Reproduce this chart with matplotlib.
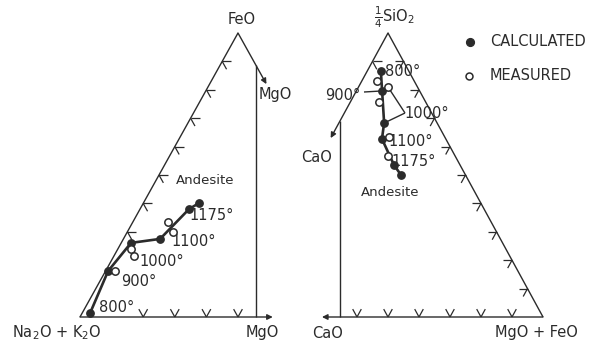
import matplotlib
matplotlib.use('Agg')
import matplotlib.pyplot as plt
import numpy as np

plt.rcParams['font.family'] = ['DejaVu Sans']
plt.rcParams['mathtext.fontset'] = 'dejavusans'

# ---------------- data (ternary fractions) ----------------
# Left diagram: Na2O+K2O (bottom-left) - FeO (top) - MgO (bottom-right)
left_calc_feo = [0.014, 0.162, 0.261, 0.275, 0.380, 0.401]
left_calc_mgo = [0.025, 0.008, 0.031, 0.116, 0.155, 0.176]
left_meas_feo = [0.335, 0.299, 0.239, 0.215, 0.162]
left_meas_mgo = [0.111, 0.144, 0.043, 0.064, 0.030]
left_temp_labels = ['1175°', '1100°', '1000°', '900°', '800°']

# Right diagram: CaO (bottom-left) - 1/4 SiO2 (top) - MgO+FeO (bottom-right)
right_calc_sio2 = [0.866, 0.796, 0.683, 0.627, 0.535, 0.500]
right_calc_mgfe = [0.044, 0.083, 0.146, 0.167, 0.252, 0.292]
right_meas_sio2 = [0.831, 0.810, 0.757, 0.634, 0.567]
right_meas_mgfe = [0.049, 0.095, 0.092, 0.186, 0.216]
right_temp_labels = ['800°', '900°', '1000°', '1100°', '1175°']

tick_fracs = [0.1, 0.2, 0.3, 0.4, 0.5, 0.6, 0.7, 0.8, 0.9]

# ---------------- layout ----------------
W, H = 613, 349
fig = plt.figure(figsize=(W / 100, H / 100), dpi=100)
ax = fig.add_axes([0, 0, 1, 1])
ax.set_xlim(0, W)
ax.set_ylim(H, 0)
ax.axis('off')

INK = '#2b2b2b'
LW = 1.0

L_BL, L_T, L_BR = np.array([80, 317.]), np.array([238, 33.]), np.array([396, 317.])
R_BL, R_T, R_BR = np.array([233, 317.]), np.array([388, 33.]), np.array([543, 317.])


def tern(BL, T, BR, top, right):
    top = np.asarray(top, float)
    right = np.asarray(right, float)
    x = BL[0] + top * (T[0] - BL[0]) + right * (BR[0] - BL[0])
    y = BL[1] + top * (T[1] - BL[1]) + right * (BR[1] - BL[1])
    return x, y


def seg(p, q, **kw):
    ax.plot([p[0], q[0]], [p[1], q[1]], color=INK, lw=kw.get('lw', LW),
            solid_capstyle='butt')


def arrow(p, q):
    ax.annotate('', xy=q, xytext=p,
                arrowprops=dict(arrowstyle='-|>', color=INK, lw=LW,
                                mutation_scale=8, shrinkA=0, shrinkB=0))


def tick(p, dirs, L=9):
    for d in dirs:
        d = np.array(d, float)
        d = d / np.hypot(*d)
        seg(p, p + L * d, lw=0.9)


e_ur = L_T - L_BL          # up-right along left edge
e_dr = L_BR - L_T          # down-right along right edge
horiz = np.array([1., 0.])

# ---------------- left triangle ----------------
seg(L_BL, L_T)
arrow(tern(L_BL, L_T, L_BR, 1.0, 0.0), tern(L_BL, L_T, L_BR, 0.82, 0.18))
arrow(L_BL, tern(L_BL, L_T, L_BR, 0.0, 0.61))
vt = tern(L_BL, L_T, L_BR, 0.886, 0.114)
vb = tern(L_BL, L_T, L_BR, 0.0, 0.557)
seg(vt, (vt[0], vb[1]))
for f in tick_fracs[2:]:
    p = np.array(tern(L_BL, L_T, L_BR, f, 0.0))
    tick(p, [horiz, e_dr])
for f in tick_fracs[1:5]:
    p = np.array(tern(L_BL, L_T, L_BR, 0.0, f))
    tick(p, [e_ur, -e_dr])

MS = 5.3
lx, ly = tern(L_BL, L_T, L_BR, left_calc_feo, left_calc_mgo)
ax.plot(lx, ly, color=INK, lw=1.9, zorder=3)
ax.plot(lx, ly, 'o', color=INK, ms=MS, zorder=4)
mx, my = tern(L_BL, L_T, L_BR, left_meas_feo, left_meas_mgo)
ax.plot(mx, my, 'o', mfc='white', mec=INK, mew=1.1, ms=MS, zorder=5)

# ---------------- right triangle ----------------
seg(R_T, R_BR)
arrow(R_T, tern(R_BL, R_T, R_BR, 0.63, 0.0))
arrow(R_BR, tern(R_BL, R_T, R_BR, 0.0, 0.287))
rvt = tern(R_BL, R_T, R_BR, 0.69, 0.0)
rvb = tern(R_BL, R_T, R_BR, 0.0, 0.345)
seg((rvb[0], rvt[1]), rvb)
p = np.array(tern(R_BL, R_T, R_BR, 0.9, 0.0))
tick(p, [horiz, R_BR - R_T])
for f in tick_fracs:
    p = np.array(tern(R_BL, R_T, R_BR, f, 1 - f))
    tick(p, [-horiz, R_BL - R_T])
for f in tick_fracs[:6]:
    p = np.array(tern(R_BL, R_T, R_BR, 0.0, 1 - f))
    tick(p, [R_T - R_BL, R_T - R_BR])

rx, ry = tern(R_BL, R_T, R_BR, right_calc_sio2, right_calc_mgfe)
ax.plot(rx, ry, color=INK, lw=1.9, zorder=3)
ax.plot(rx, ry, 'o', color=INK, ms=MS, zorder=4)
rmx, rmy = tern(R_BL, R_T, R_BR, right_meas_sio2, right_meas_mgfe)
ax.plot(rmx, rmy, 'o', mfc='white', mec=INK, mew=1.1, ms=MS, zorder=5)

# leader lines
seg((364, 92), (rx[1], ry[1]))
seg((405, 113), (rmx[1], rmy[1]))
seg((405, 113), (rx[2], ry[2]))

# ---------------- text ----------------
fs = 10.5
kw = dict(color=INK, ha='center', va='center', fontsize=fs)
ax.text(242, 20, 'FeO', **kw)
ax.text(275, 94, 'MgO', **kw)
ax.text(57, 333, 'Na$_2$O + K$_2$O', **kw)
ax.text(262, 333, 'MgO', **kw)
ax.text(205, 180, 'Andesite', color=INK, ha='center', va='center', fontsize=9.5)
for (x, y), s in zip([(212, 216), (194, 242), (162, 262), (139, 282), (117, 307)],
                     left_temp_labels):
    ax.text(x, y, s, **kw)

ax.text(394, 17, r'$\frac{1}{4}$SiO$_2$', **kw)
ax.text(317, 158, 'CaO', **kw)
ax.text(328, 333, 'CaO', **kw)
ax.text(536, 333, 'MgO + FeO', **kw)
ax.text(390, 193, 'Andesite', color=INK, ha='center', va='center', fontsize=9.5)
for (x, y), s in zip([(403, 72), (343, 95), (427, 113), (411, 142), (414, 162)],
                     right_temp_labels):
    ax.text(x, y, s, **kw)

# legend
ax.plot([470], [42], 'o', color=INK, ms=5.6)
ax.plot([469], [76], 'o', mfc='white', mec=INK, mew=1.1, ms=5.0)
ax.text(490, 42, 'CALCULATED', color=INK, ha='left', va='center', fontsize=fs)
ax.text(490, 76, 'MEASURED', color=INK, ha='left', va='center', fontsize=fs)

fig.savefig('out.png', dpi=100, facecolor='white')
